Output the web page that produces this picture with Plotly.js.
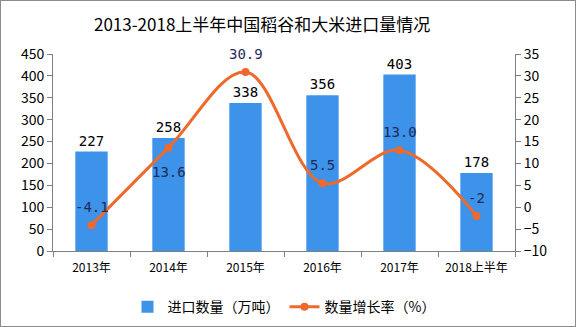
<!DOCTYPE html>
<html><head><meta charset="utf-8">
<script src="https://cdn.plot.ly/plotly-3.0.1.min.js"></script>
<style>html,body{margin:0;padding:0;background:#fff}#wrap{width:574px;height:325px;border:1px solid #8c8c8c;overflow:hidden}#chart{width:574px;height:325px}</style>
</head><body><div id="wrap"><div id="chart"></div></div>
<script>
const categories = ['2013年','2014年','2015年','2016年','2017年','2018上半年'];
const importVolume = [227, 258, 338, 356, 403, 178];
const growthRate = [-4.1, 13.6, 30.9, 5.5, 13.0, -2];
const growthLabels = ['-4.1','13.6','30.9','5.5','13.0','-2'];
const FONT = '"Noto Sans CJK SC", "DejaVu Sans", sans-serif';
const NUMFONT = '"DejaVu Sans Mono", monospace';
const bars = {
  type:'bar', x:categories, y:importVolume, name:'进口数量（万吨）',
  marker:{color:'#3d93ea'}, text:importVolume.map(String), textposition:'outside',
  textfont:{size:14,color:'#000',family:NUMFONT}, cliponaxis:false, hoverinfo:'none'
};
const line = {
  type:'scatter', mode:'lines+markers', x:categories, y:growthRate, yaxis:'y2', name:'数量增长率（%）',
  line:{color:'#ee6a2c',width:3,shape:'spline',smoothing:1}, marker:{color:'#ee6a2c',size:8},
  cliponaxis:false, hoverinfo:'none'
};
const annotations = categories.map((c,i)=>({
  x:c, y:growthRate[i], xref:'x', yref:'y2', text:growthLabels[i], showarrow:false,
  yanchor:'middle', xanchor:'center', yshift: i===1 ? -24 : 18,
  font:{size:14,color:'#1f2a55',family:NUMFONT}
}));
const layout = {
  width:574, height:325,
  margin:{l:52,r:60,t:53,b:75},
  paper_bgcolor:'#fff', plot_bgcolor:'#fff',
  title:{text:'2013-2018上半年中国稻谷和大米进口量情况', font:{family:FONT,size:17,color:'#000'}, xref:'container', x:0.455, xanchor:'center', yref:'container', y:0.925, yanchor:'middle'},
  bargap:0.58,
  showlegend:true,
  annotations:annotations,
  legend:{orientation:'h', x:0.5, xanchor:'center', yref:'container', y:0.058, yanchor:'middle', font:{family:FONT,size:14,color:'#000'}, traceorder:'normal'},
  xaxis:{type:'category', showline:true, linecolor:'#808080', linewidth:1, ticks:'outside', tickson:'boundaries', ticklen:5, tickcolor:'#808080', tickfont:{family:FONT,size:12,color:'#000'}, ticklabelstandoff:6, showgrid:false, zeroline:false, automargin:false},
  yaxis:{range:[0,450], dtick:50, showline:true, linecolor:'#808080', ticks:'outside', ticklen:5, tickcolor:'#808080', tickfont:{family:FONT,size:14,color:'#000'}, showgrid:false, zeroline:false, automargin:false},
  yaxis2:{range:[-10,35], dtick:5, overlaying:'y', side:'right', showline:true, linecolor:'#808080', ticks:'outside', ticklen:5, tickcolor:'#808080', tickfont:{family:FONT,size:14,color:'#000'}, showgrid:false, zeroline:false, tickformat:'d', automargin:false}
};
Plotly.newPlot('chart',[bars,line],layout,{staticPlot:true});
</script></body></html>
